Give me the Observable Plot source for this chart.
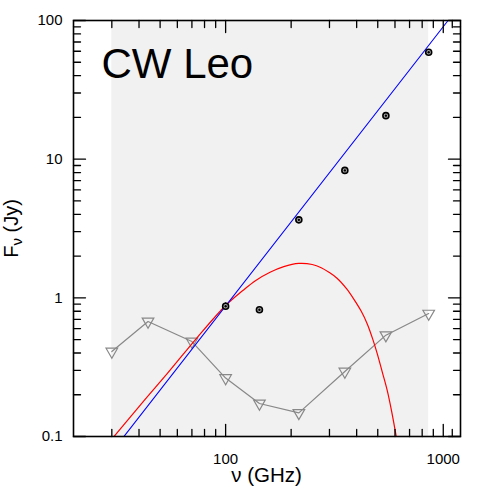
<!DOCTYPE html>
<html><head><meta charset="utf-8">
<script src="https://cdn.jsdelivr.net/npm/d3@7"></script>
<script src="https://cdn.jsdelivr.net/npm/@observablehq/plot@0.6"></script>
<style>
body{margin:0;background:#fff;}
#chart svg{font-family:"Liberation Sans",Arial,Helvetica,sans-serif;display:block;}
</style>
</head><body><div id="chart"></div>
<script>
// Planck band covered (GHz)
const bandRange = [30, 857];
// Detections (GHz, Jy)
const detFreq = [100, 143, 217, 353, 545, 857];
const detFlux = [0.87, 0.82, 3.65, 8.3, 20.6, 59];
const detErr  = [0.05, 0.03, 0.12, 0.25, 0.5, 1.2];
// Upper limits / sensitivity (GHz, Jy)
const limFreq = [30, 44, 70, 100, 143, 217, 353, 545, 857];
const limFlux = [0.41, 0.675, 0.484, 0.264, 0.173, 0.148, 0.294, 0.538, 0.77];
// Power-law fit (blue)
const powFreq = [34.1, 1052];
const powFlux = [0.1, 100];
// Dust model (red)
const dustFreq = [30.7, 42, 54, 74, 100, 120, 137, 160, 185, 217, 250, 275, 300, 326, 360, 388, 420, 448, 475, 498, 525, 553, 580, 608];
const dustFlux = [0.1, 0.18, 0.285, 0.517, 0.88, 1.13, 1.33, 1.53, 1.68, 1.77, 1.74, 1.65, 1.52, 1.38, 1.16, 0.98, 0.80, 0.646, 0.50, 0.393, 0.29, 0.214, 0.15, 0.1];
// Tick values
const xMajor = [100, 1000];
const xMinor = [30, 40, 50, 60, 70, 80, 90, 200, 300, 400, 500, 600, 700, 800, 900, 1100];
const yMajor = [0.1, 1, 10, 100];
const yMinor = [0.2,0.3,0.4,0.5,0.6,0.7,0.8,0.9,2,3,4,5,6,7,8,9,20,30,40,50,60,70,80,90];

const det = detFreq.map((f, i) => ({f, v: detFlux[i], e: detErr[i]}));
const lim = limFreq.map((f, i) => ({f, v: limFlux[i]}));
const pow = powFreq.map((f, i) => ({f, v: powFlux[i]}));
const dust = dustFreq.map((f, i) => ({f, v: dustFlux[i]}));

const tickShape = {draw(context, l) { context.moveTo(0, 0); context.lineTo(0, -l); }};
const tk = (vals, ch, anchor, rot, len) => Plot.vector(vals, {
  [ch]: d => d, frameAnchor: anchor, rotate: rot, length: len, anchor: "start",
  shape: tickShape, stroke: "black", strokeWidth: 1.3
});

const plot = Plot.plot({
  width: 491, height: 491,
  marginLeft: 73, marginRight: 31, marginTop: 20, marginBottom: 55,
  style: {fontSize: "15px", fontFamily: "Liberation Sans, Arial, sans-serif", background: "white"},
  x: {type: "log", domain: [20, 1200]},
  y: {type: "log", domain: [0.1, 100]},
  marks: [
    Plot.rect([bandRange], {x1: d => d[0], x2: d => d[1], fill: "#f1f1f1"}),
    Plot.line(lim, {x: "f", y: "v", stroke: "#888", strokeWidth: 1.2}),
    Plot.dot(lim, {x: "f", y: "v", symbol: "triangle", rotate: 180, r: 4.3, stroke: "#888", fill: "none", strokeWidth: 1.2}),
    Plot.line(dust, {x: "f", y: "v", stroke: "#ff0000", strokeWidth: 1.2, curve: "catmull-rom", clip: true}),
    Plot.line(pow, {x: "f", y: "v", stroke: "#0000ff", strokeWidth: 1.1, clip: true}),
    Plot.ruleX(det, {x: "f", y1: d => d.v - d.e, y2: d => d.v + d.e, stroke: "black", strokeWidth: 1.5}),
    Plot.dot(det, {x: "f", y: "v", r: 3, stroke: "black", strokeWidth: 1.6, fill: "#aaa"}),
    Plot.dot(det, {x: "f", y: "v", r: 1.2, fill: "black"}),
    Plot.text(["CW Leo"], {frameAnchor: "top-left", dx: 28, dy: 57, textAnchor: "start", lineAnchor: "bottom", fontSize: 42, fill: "black"}),
    tk(xMajor, "x", "bottom", 0, 12), tk(xMinor, "x", "bottom", 0, 7),
    tk(xMajor, "x", "top", 180, 12), tk(xMinor, "x", "top", 180, 7),
    tk(yMajor, "y", "left", 90, 12), tk(yMinor, "y", "left", 90, 7),
    tk(yMajor, "y", "right", -90, 12), tk(yMinor, "y", "right", -90, 7),
    Plot.axisX({ticks: xMajor, tickSize: 0, tickPadding: 17, tickFormat: d => String(d), label: null}),
    Plot.axisY({ticks: yMajor, tickSize: 0, tickPadding: 11, tickFormat: d => String(d), label: null}),
    Plot.frame({stroke: "black", strokeWidth: 1.6})
  ]
});
document.getElementById("chart").appendChild(plot);

const svg = d3.select(plot);
svg.append("text")
  .attr("x", 266.5).attr("y", 482)
  .attr("text-anchor", "middle").attr("font-size", 20.5).attr("fill", "black")
  .text("ν (GHz)");
const yl = svg.append("text")
  .attr("transform", "translate(18,228.5) rotate(-90)")
  .attr("text-anchor", "middle").attr("font-size", 20).attr("fill", "black");
yl.append("tspan").text("F");
yl.append("tspan").attr("font-size", 15).attr("dy", 4).text("ν");
yl.append("tspan").attr("dy", -4).text(" (Jy)");
</script>
</body></html>
